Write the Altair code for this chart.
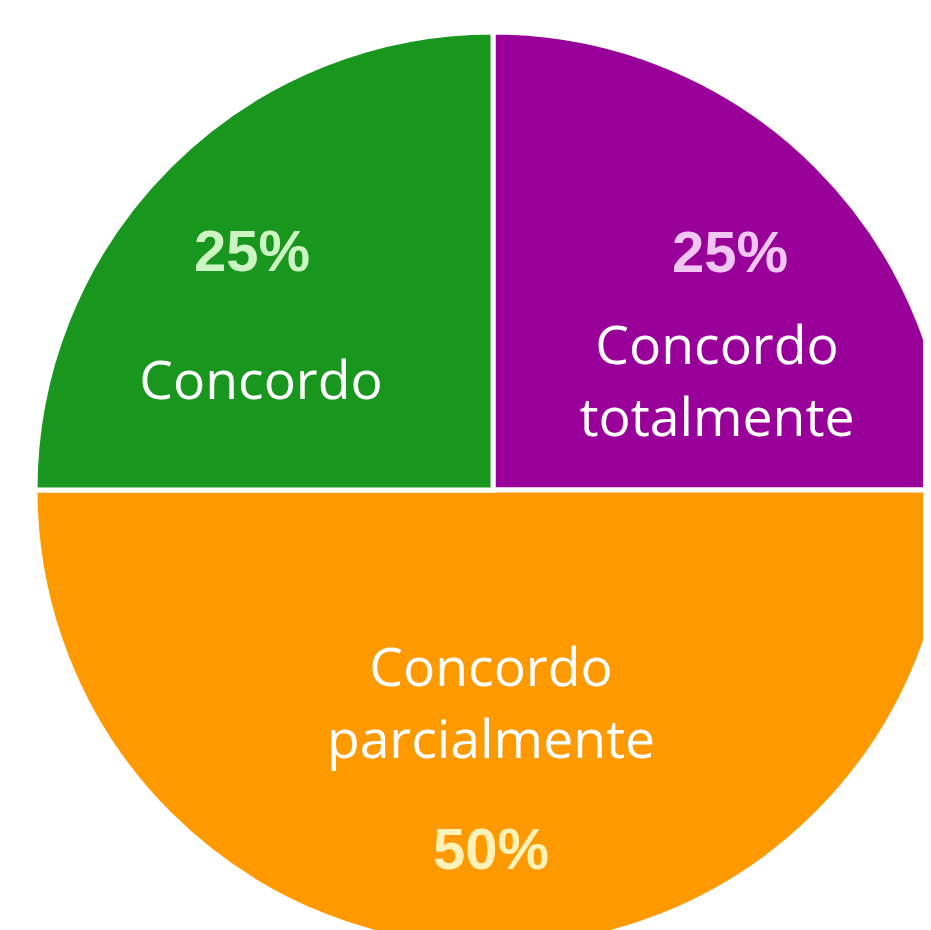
import altair as alt
import pandas as pd

categories = ["Concordo totalmente", "Concordo parcialmente", "Concordo"]
values = [25, 50, 25]
pct_labels = ["25%", "50%", "25%"]
colors = ["#990099", "#FF9900", "#18961E"]
pct_colors = ["#F2C6F2", "#FFF2B8", "#CDF5C4"]
label_lines = ["Concordo\ntotalmente", "Concordo\nparcialmente", "Concordo"]

df = pd.DataFrame({
    "category": categories,
    "value": values,
    "pct": pct_labels,
    "order": list(range(len(categories))),
})

CX, CY, R = 485, 482, 458

arcs = alt.Chart(df).mark_arc(radius=R, stroke="#FFFFFF", strokeWidth=5, clip=True).encode(
    theta=alt.Theta("value:Q", stack=True),
    order=alt.Order("order:Q"),
    color=alt.Color("category:N", scale=alt.Scale(domain=categories, range=colors), legend=None),
    x=alt.value(CX),
    y=alt.value(CY),
)

pct_pos = {
    "Concordo": (244, 246),
    "Concordo totalmente": (722, 247),
    "Concordo parcialmente": (483, 844),
}
label_pos = {
    "Concordo": (253, 375),
    "Concordo totalmente": (709, 340),
    "Concordo parcialmente": (483, 662),
}

layers = [arcs]
for i, cat in enumerate(categories):
    px, py = pct_pos[cat]
    layers.append(
        alt.Chart(df).transform_filter(alt.datum.category == cat).mark_text(
            font="Liberation Sans", fontSize=58, fontWeight="bold", align="center",
            baseline="middle", color=pct_colors[i]
        ).encode(text="pct:N", x=alt.value(px), y=alt.value(py))
    )
    lx, ly = label_pos[cat]
    layers.append(
        alt.Chart(df).transform_filter(alt.datum.category == cat).transform_calculate(
            lbl="'%s'" % label_lines[i].replace("\n", "\\n")
        ).mark_text(
            font="Open Sans", fontSize=53.5, color="#FFFFFF", align="center", baseline="middle",
            lineBreak="\n", lineHeight=72
        ).encode(text="lbl:N", x=alt.value(lx), y=alt.value(ly))
    )

chart = alt.layer(*layers).properties(
    width=915, height=922, padding=0
).configure(background="#FFFFFF").configure_view(stroke=None)

chart.save("out.html", embed_options={"renderer": "svg", "actions": False})
